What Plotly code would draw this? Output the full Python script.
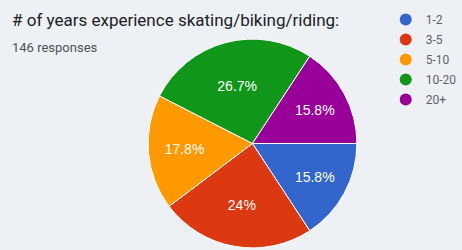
import plotly.graph_objects as go

# ---- data ----
labels = ["1-2", "3-5", "5-10", "10-20", "20+"]
counts = [23, 35, 26, 39, 23]
colors = ["#3366cc", "#dc3912", "#ff9900", "#109618", "#990099"]
title_text = "# of years experience skating/biking/riding:"
subtitle_text = "146 responses"

total = sum(counts)


def fmt_pct(v):
    s = f"{v / total * 100:.1f}"
    if s.endswith(".0"):
        s = s[:-2]
    return s + "%"


texts = [fmt_pct(v) for v in counts]

W, H = 462, 250
BG = "#edf1f5"
fig = go.Figure()
fig.add_trace(go.Pie(
    labels=labels,
    values=counts,
    sort=False,
    direction="clockwise",
    rotation=90,
    marker=dict(colors=colors, line=dict(color="white", width=1)),
    text=texts,
    textinfo="text",
    textposition="inside",
    insidetextorientation="horizontal",
    textfont=dict(color="white", size=14, family="Arial"),
    showlegend=False,
    domain=dict(x=[0.329, 0.793], y=[0.0, 0.852]),
    hoverinfo="label+percent",
))

for lab, col in zip(labels, colors):
    fig.add_trace(go.Scatter(
        x=[None], y=[None], mode="markers",
        marker=dict(color=col, size=12, symbol="circle"),
        name=lab, legendgroup=lab, showlegend=True,
    ))

fig.update_layout(
    width=W, height=H,
    margin=dict(l=0, r=0, t=0, b=0),
    paper_bgcolor=BG,
    plot_bgcolor=BG,
    xaxis=dict(visible=False),
    yaxis=dict(visible=False),
    showlegend=True,
    legend=dict(
        x=396 / W, y=1 - 5 / H, xanchor="left", yanchor="top",
        bgcolor="rgba(0,0,0,0)",
        font=dict(family="Roboto", size=12, color="#5f6368"),
        tracegroupgap=1,
    ),
    annotations=[
        dict(text=title_text, x=10 / W, y=1 - 20 / H, xref="paper", yref="paper",
             xanchor="left", yanchor="middle", showarrow=False,
             font=dict(family="Roboto", size=17, color="#202124")),
        dict(text=subtitle_text, x=10 / W, y=1 - 48 / H, xref="paper", yref="paper",
             xanchor="left", yanchor="middle", showarrow=False,
             font=dict(family="Roboto", size=13, color="#4d5156")),
    ],
)

fig.write_html(
    "out.html",
    config={"displayModeBar": False},
    post_script=f"document.body.style.margin='0';document.body.style.background='{BG}';",
)
